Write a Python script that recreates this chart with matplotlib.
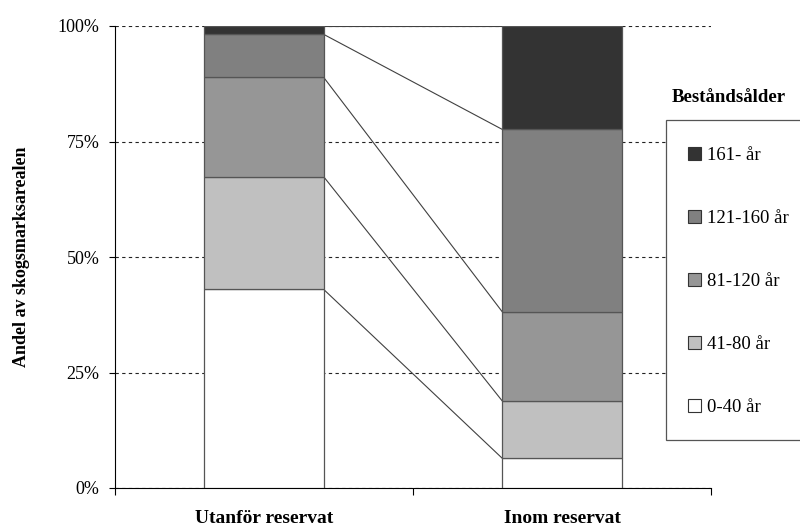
import numpy as np
import matplotlib.pyplot as plt
from matplotlib.patches import Rectangle, Patch

plt.rcParams['font.family'] = ['Liberation Serif', 'DejaVu Serif']

# data (andel i procent)
kategorier = ['Utanför reservat', 'Inom reservat']
aldersklasser = ['0-40 år', '41-80 år', '81-120 år', '121-160 år', '161- år']
andel_0_40 = [43.0, 6.4]
andel_41_80 = [24.4, 12.4]
andel_81_120 = [21.5, 19.3]
andel_121_160 = [9.3, 39.5]
andel_161 = [1.8, 22.4]
farger = ['#ffffff', '#c0c0c0', '#969696', '#808080', '#333333']

serier = [andel_0_40, andel_41_80, andel_81_120, andel_121_160, andel_161]

fig = plt.figure(figsize=(8, 5.27), dpi=100)
ax = fig.add_axes([115/800, 1-488/527, (711-115)/800, (488-26)/527])

x = np.arange(len(kategorier))
bredd = 0.4
botten = np.zeros(len(kategorier))
toppar = []
for vals, f in zip(serier, farger):
    ax.bar(x, vals, bredd, bottom=botten, color=f, edgecolor='#555555', linewidth=0.9, zorder=3)
    botten = botten + np.array(vals)
    toppar.append(botten.copy())

# serielinjer mellan staplarna
for t in toppar:
    ax.plot([x[0] + bredd/2, x[1] - bredd/2], [t[0], t[1]], color='#404040', lw=0.8, zorder=2)

ax.set_xlim(-0.5, 1.5)
ax.set_ylim(0, 100)
ax.set_yticks([0, 25, 50, 75, 100])
ax.set_yticklabels(['0%', '25%', '50%', '75%', '100%'], fontsize=13)
ax.yaxis.grid(True, color='#222222', linestyle=(0, (3, 3)), lw=0.8, zorder=0)
ax.set_axisbelow(True)
ax.tick_params(axis='y', length=4, width=0.8, pad=7)

ax.set_xticks([-0.5, 0.5, 1.5])
ax.set_xticklabels([])
ax.tick_params(axis='x', length=5, width=0.8)
ax.set_xticks(x, kategorier, minor=True)
ax.tick_params(axis='x', which='minor', length=0, pad=16, labelsize=14)
for lab in ax.get_xticklabels(minor=True):
    lab.set_fontweight('bold')

for s in ['top', 'right']:
    ax.spines[s].set_visible(False)
for s in ['left', 'bottom']:
    ax.spines[s].set_linewidth(0.8)

ax.set_ylabel('Andel av skogsmarksarealen', fontsize=13, fontweight='bold', labelpad=20)

# legend
ruta = Rectangle((666/800, 1-440/527), 0.25, 320/527, transform=fig.transFigure,
                 facecolor='white', edgecolor='#555555', lw=0.9, zorder=5, clip_on=False)
fig.patches.append(ruta)
handtag = [Patch(facecolor=f, edgecolor='#333333', lw=0.8) for f in farger][::-1]
leg = fig.legend(handtag, aldersklasser[::-1], loc='upper left',
                 bbox_to_anchor=(671/800, 1-130/527), frameon=False, fontsize=13.5,
                 handlelength=0.7, handleheight=0.7, handletextpad=0.3, labelspacing=2.45)
leg.set_zorder(6)
fig.text(729/800, 1-97/527, 'Beståndsålder', ha='center', va='center',
         fontsize=13.5, fontweight='bold')

fig.savefig('out.png', dpi=100)
